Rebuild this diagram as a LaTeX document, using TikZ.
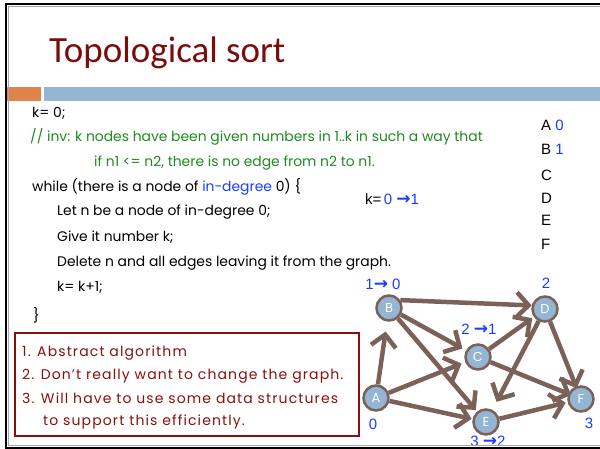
\documentclass[tikz,border=0pt]{standalone}
\usepackage{fontspec}
\setmainfont{Poppins}
\newfontfamily\titlefont{Carlito}
\newfontfamily\arialfont{Liberation Sans}
\newfontfamily\arrowfont{DejaVu Sans}
\newcommand{\rarr}{{\arrowfont\bfseries\fontsize{17}{17}\selectfont →}}
\usetikzlibrary{arrows.meta}
\definecolor{titlered}{HTML}{7B0C0C}
\definecolor{barorange}{HTML}{DE8449}
\definecolor{barblue}{HTML}{94B6D2}
\definecolor{edgebrown}{HTML}{7B6158}
\definecolor{nodeblue}{HTML}{94B6D2}
\definecolor{codegreen}{HTML}{1E8A1E}
\definecolor{labblue}{HTML}{1A3CFF}
\definecolor{boxred}{HTML}{861010}
\pgfdeclarelayer{edgelayer}
\pgfsetlayers{edgelayer,main}
\tikzset{
  codeline/.style={anchor=base west, inner sep=0pt, font=\fontsize{13.9}{15}\selectfont},
  boxline/.style={anchor=base west, inner sep=0pt, text=boxred, font=\fontsize{14}{15}\selectfont\addfontfeatures{LetterSpace=8}},
  letterline/.style={anchor=base west, inner sep=0pt, font=\arialfont\fontsize{15}{17}\selectfont},
  gnode/.style={circle, draw=edgebrown, line width=2.5pt, fill=nodeblue, minimum size=25pt, inner sep=0pt, text=white, font=\fontsize{13}{14}\selectfont},
  gedge/.style={draw=edgebrown, line width=4.5pt, -{Straight Barb[length=12pt,width=25pt]}},
  glabel/.style={inner sep=0pt, text=labblue, font=\arialfont\fontsize{15}{17}\selectfont}
}
\begin{document}
\begin{tikzpicture}[x=1pt,y=-1pt]
\useasboundingbox (0,0) rectangle (600,449);
% bars
\fill[barorange] (7,87) rectangle (41,101.5);
\fill[barblue] (44,87) rectangle (600,101.5);
% title
\node[anchor=base west, inner sep=0pt, text=titlered, font=\titlefont\fontsize{37}{40}\selectfont] (title) at (49,63) {Topological sort};
% code
\node[codeline] (l1) at (32,118) {k= 0;};
\node[codeline, text=codegreen] (l2) at (30,142) {// inv: k nodes have been given numbers in 1..k in such a way that};
\node[codeline, text=codegreen] (l3) at (94,167) {if n1 <= n2, there is no edge from n2 to n1.};
\node[codeline] (l4) at (32,192) {while (there is a node of \textcolor{labblue}{in-degree} 0) \{};
\node[codeline] (l5) at (57,216) {Let n be a node of in-degree 0;};
\node[codeline] (l6) at (57,242) {Give it number k;};
\node[codeline] (l7) at (57,267) {Delete n and all edges leaving it from the graph.};
\node[codeline] (l8) at (57,291) {k= k+1;};
\node[codeline] (l9) at (33,320) {\}};
% k = 0 -> 1
\node[letterline] (kk) at (365,205) {k=\,\textcolor{labblue}{0 \rarr1}};
% letters
\node[letterline] (la) at (541,131) {A \textcolor{labblue}{0}};
\node[letterline] (lb) at (541,155) {B \textcolor{labblue}{1}};
\node[letterline] (lc) at (541,181) {C};
\node[letterline] (ld) at (541,203.5) {D};
\node[letterline] (le) at (541,226) {E};
\node[letterline] (lf) at (541,249.5) {F};
% red box
\draw[boxred, line width=2pt] (15,333) rectangle (359,436);
\node[boxline] (b1) at (22,356) {1. Abstract algorithm};
\node[boxline] (b2) at (22,379) {2. Don’t really want to change the graph.};
\node[boxline] (b3) at (22,403) {3. Will have to use some data structures};
\node[boxline] (b4) at (43,425) {to support this efficiently.};
% graph nodes
\node[gnode] (A) at (376,398) {A};
\node[gnode] (B) at (389,308) {B};
\node[gnode] (C) at (478,357) {C};
\node[gnode] (D) at (545,309) {D};
\node[gnode] (E) at (486,422) {E};
\node[gnode] (F) at (581,399) {F};
\begin{pgfonlayer}{edgelayer}
\draw[gedge, shorten >=10pt] (A) -- (B);
\draw[gedge, shorten >=4pt] (A) -- (C);
\draw[gedge, shorten >=1pt] (A) -- (E);
\draw[gedge] (B.35) -- (D.165);
\draw[gedge, shorten >=4pt] (B) -- (C);
\draw[gedge, shorten >=2pt] (B) -- (E);
\draw[gedge, shorten >=2pt] (C) -- (D);
\draw[gedge, shorten >=-3pt] (C) -- (F);
\draw[gedge, shorten >=9pt] (D) -- (E);
\draw[gedge, shorten >=-2pt] (D) -- (F);
\draw[gedge, shorten >=2pt] (E) -- (F);
\end{pgfonlayer}
% graph labels
\node[glabel] (labB) at (383,284) {1\rarr\ 0};
\node[glabel] (labD) at (546,283) {2};
\node[glabel] (labC) at (479,329) {2 \rarr1};
\node[glabel] (labA) at (373,424) {0};
\node[glabel] (labF) at (589,423) {3};
\node[glabel] (labE) at (488,441) {3 \rarr2};
% frame
\draw[gray!70, line width=0.6pt] (600,6.3) -- (8.6,6.3) -- (8.6,445) -- (600,445);
\draw[black, line width=2pt] (600,4.5) -- (6,4.5) -- (6,447.5) -- (600,447.5);
\end{tikzpicture}
\end{document}
